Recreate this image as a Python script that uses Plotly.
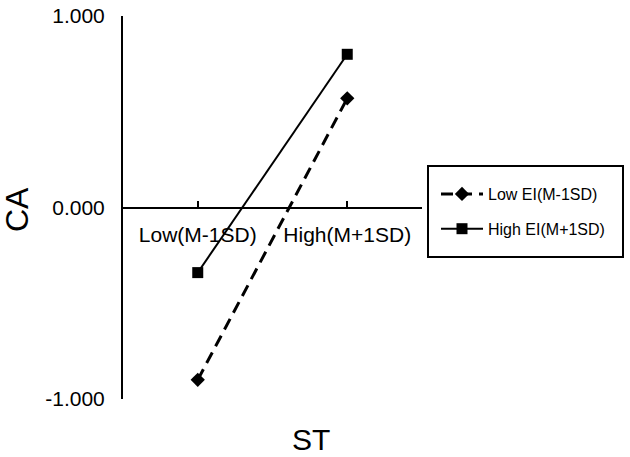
import plotly.graph_objects as go

categories = ["Low(M-1SD)", "High(M+1SD)"]
cat_pos = [1, 2]
low_ei = [-0.90, 0.57]
high_ei = [-0.34, 0.80]
series_names = ["Low EI(M-1SD)", "High EI(M+1SD)"]
y_ticks = [-1.0, 0.0, 1.0]
y_tick_text = ["-1.000", "0.000", "1.000"]

FONT = "Liberation Sans, Arial, sans-serif"

fig = go.Figure()
fig.add_trace(go.Scatter(
    x=cat_pos, y=low_ei, name=series_names[0], mode="lines+markers",
    line=dict(color="black", width=3, dash="12px,7px"),
    marker=dict(symbol="diamond", size=11, color="black"),
    cliponaxis=False, legendgroup="a"))
fig.add_trace(go.Scatter(
    x=cat_pos, y=high_ei, name=series_names[1], mode="lines+markers",
    line=dict(color="black", width=2),
    marker=dict(symbol="square", size=11, color="black"),
    cliponaxis=False, legendgroup="b"))

L, R, T, B = 123, 208, 16, 58
W, H = 630, 457
pw, ph = W - L - R, H - T - B

def px(x):
    return (x - L) / pw

def py(y):
    return (H - B - y) / ph

fig.update_layout(
    width=W, height=H,
    margin=dict(l=L, r=R, t=T, b=B, autoexpand=False),
    paper_bgcolor="white", plot_bgcolor="white",
    font=dict(family=FONT, color="black"),
    showlegend=True,
    legend=dict(x=px(436), y=py(177), xanchor="left", yanchor="top",
                font=dict(size=16, family=FONT, color="black"),
                bgcolor="rgba(0,0,0,0)", borderwidth=0, itemwidth=42,
                traceorder="grouped", tracegroupgap=11),
    xaxis=dict(range=[0.5, 2.5], tickvals=cat_pos + [2.5], ticktext=categories + [""],
               showgrid=False, zeroline=False, showline=True, linecolor="black", linewidth=2,
               ticks="inside", ticklen=6, tickwidth=2, tickcolor="black",
               anchor="free", position=0.5, ticklabelstandoff=8, automargin=False,
               tickfont=dict(size=21, family=FONT, color="black")),
    yaxis=dict(range=[-1, 1], tickvals=y_ticks, ticktext=y_tick_text,
               showgrid=False, zeroline=False, showline=True, linecolor="black", linewidth=2,
               ticks="inside", ticklen=6, tickwidth=2, tickcolor="black",
               ticklabelstandoff=12, automargin=False,
               tickfont=dict(size=21, family=FONT, color="black")),
    shapes=[dict(type="rect", xref="paper", yref="paper",
                 x0=px(428), x1=px(623), y0=py(257), y1=py(166),
                 line=dict(color="black", width=2))],
    annotations=[
        dict(text="CA", xref="paper", yref="paper", x=px(17), y=py(210),
             xanchor="center", yanchor="middle", textangle=-90, showarrow=False,
             font=dict(size=32, family=FONT, color="black")),
        dict(text="ST", xref="paper", yref="paper", x=px(311), y=py(439),
             xanchor="center", yanchor="middle", showarrow=False,
             font=dict(size=30, family=FONT, color="black")),
    ],
)

fig.write_html("out.html")
